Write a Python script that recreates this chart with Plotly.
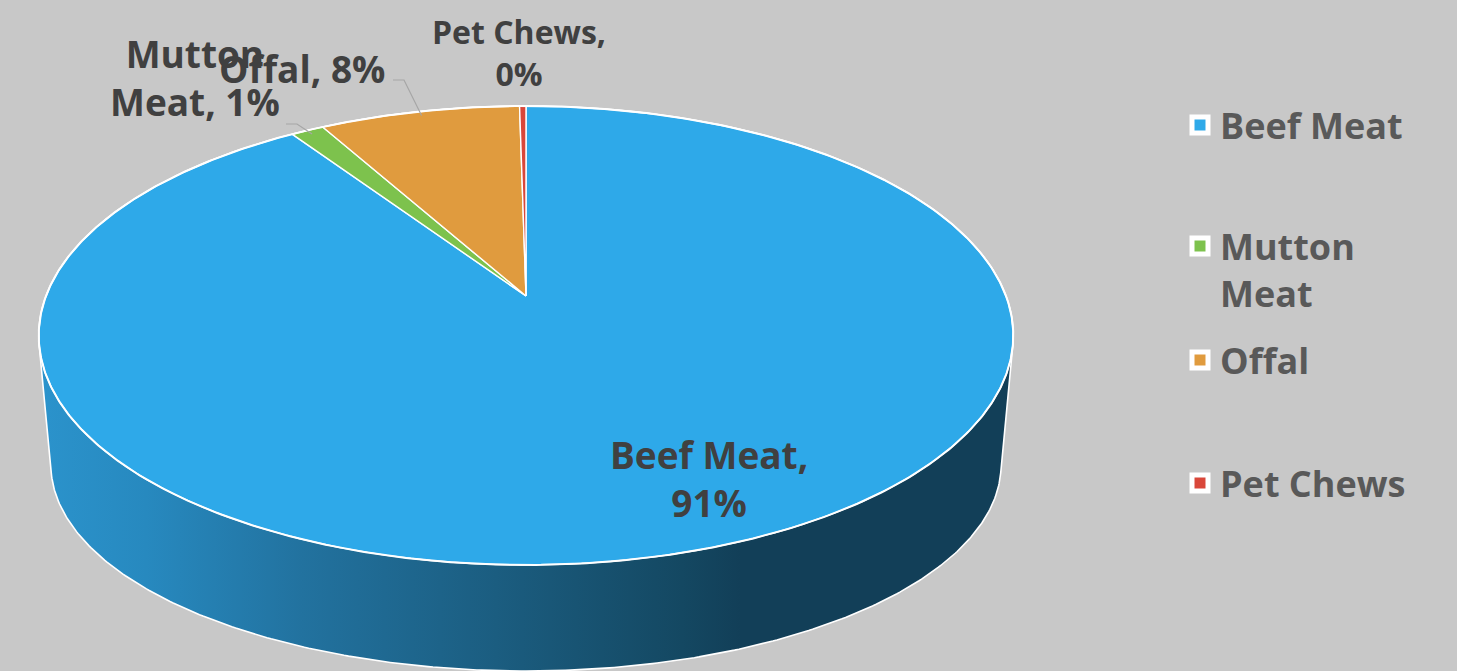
import numpy as np
import plotly.graph_objects as go

# ---------------- data ----------------
categories = ["Beef Meat", "Mutton Meat", "Offal", "Pet Chews"]
values = [90.6, 1.3, 7.85, 0.25]
legend_names = ["Beef Meat", "Mutton<br>Meat", "Offal", "Pet Chews"]
label_breaks = [",<br>", "<br>", ", ", ",<br>"]  # how each data label is wrapped

# ---------------- style ----------------
colors = ["#2EA9E9", "#7DC24D", "#E09B3E", "#D9473A"]
BG = "#C8C8C8"
W, H = 1457, 671
FONT = "Open Sans"

# perspective model of the tilted disc (pixel space)
CX, CY = 526, 296            # apex of the pie on the top face
R, S, K = 480, 222.7, 0.172  # top face radii and perspective factor
CYB, RB, SB = 429.5, 468, 200  # bottom face


def top_xy(theta, r=1.0):
    s = r * np.sin(theta)
    w = 1 + K * s
    return CX + R * r * np.cos(theta) / w, CY - S * s / w


def bottom_xy(theta):
    s = np.sin(theta)
    w = 1 + K * s
    return CX + RB * np.cos(theta) / w, CYB - SB * s / w


def hull(points):
    pts = sorted(set(points))
    def cross(o, a, b):
        return (a[0] - o[0]) * (b[1] - o[1]) - (a[1] - o[1]) * (b[0] - o[0])
    lower, upper = [], []
    for p in pts:
        while len(lower) >= 2 and cross(lower[-2], lower[-1], p) <= 0:
            lower.pop()
        lower.append(p)
    for p in reversed(pts):
        while len(upper) >= 2 and cross(upper[-2], upper[-1], p) <= 0:
            upper.pop()
        upper.append(p)
    return lower[:-1] + upper[:-1]


fig = go.Figure()

# ---- side wall (convex hull of top and bottom faces) ----
th = np.linspace(0, 2 * np.pi, 721)
tx, ty = top_xy(th)
bx, by = bottom_xy(th)
pts = [(round(float(a), 2), round(float(b), 2)) for a, b in zip(np.r_[tx, bx], np.r_[ty, by])]
hp = hull(pts)
hx = [p[0] for p in hp] + [hp[0][0]]
hy = [p[1] for p in hp] + [hp[0][1]]
fig.add_trace(go.Scatter(
    x=hx, y=hy, mode="lines", fill="toself",
    fillgradient=dict(type="horizontal", colorscale=[
        [0.0, "#2B93CC"], [0.11, "#2789BF"], [0.27, "#22729F"],
        [0.47, "#1B5D80"], [0.66, "#144862"], [0.72, "#123F58"], [1.0, "#123F58"]]),
    line=dict(color="white", width=1.6), hoverinfo="skip", showlegend=False))

# ---- top face slices ----
vals = np.array(values, dtype=float)
frac = vals / vals.sum()
cum = np.r_[0, np.cumsum(frac)]
mids = []
for i, name in enumerate(categories):
    t = np.linspace(cum[i], cum[i + 1], max(3, int(frac[i] * 720) + 3))
    ang = np.pi / 2 - 2 * np.pi * t
    ax, ay = top_xy(ang)
    xs = np.r_[CX, ax, CX]
    ys = np.r_[CY, ay, CY]
    mids.append(np.pi / 2 - 2 * np.pi * (cum[i] + cum[i + 1]) / 2)
    fig.add_trace(go.Scatter(
        x=xs, y=ys, mode="lines", fill="toself", fillcolor=colors[i],
        line=dict(color="white", width=1.4), name=name,
        hoverinfo="name", showlegend=False))

# outer white rim of the top face
fig.add_trace(go.Scatter(x=tx, y=ty, mode="lines",
                         line=dict(color="white", width=2),
                         hoverinfo="skip", showlegend=False))

# ---- data labels ----
pct = [int(round(f * 100)) for f in frac]
label_pos = [(709, 478), (195, 77), (302, 68), (519, 52)]
label_size = [37, 37, 37, 32]
for i, name in enumerate(categories):
    words = name.split(" ")
    if i == 1:
        txt = f"{words[0]}<br>{words[1]}, {pct[i]}%"
    else:
        txt = f"{name}{label_breaks[i]}{pct[i]}%"
    fig.add_annotation(x=label_pos[i][0], y=label_pos[i][1], xref="x", yref="y",
                       text=txt, showarrow=False, xanchor="center", yanchor="middle",
                       font=dict(family=FONT, size=label_size[i], color="#404040",
                                 weight="bold"))

# ---- leader lines (Mutton, Offal) ----
leader_start = {1: (286, 124), 2: (393, 80)}
for i, (sx, sy) in leader_start.items():
    ex, ey = top_xy(mids[i], 0.975)
    fig.add_trace(go.Scatter(x=[sx, sx + 11, float(ex)], y=[sy, sy, float(ey)],
                             mode="lines", line=dict(color="#A6A6A6", width=1.2),
                             hoverinfo="skip", showlegend=False))

# ---- legends (one per entry to reproduce Excel spacing) ----
legend_y = [125, 269.5, 360, 483]
legend_keys = ["legend", "legend2", "legend3", "legend4"]
for i, name in enumerate(categories):
    fig.add_trace(go.Scatter(
        x=[None], y=[None], mode="markers", name=legend_names[i],
        marker=dict(symbol="square", size=16, color=colors[i],
                    line=dict(color="white", width=5)),
        legend=legend_keys[i], showlegend=True, hoverinfo="skip"))

legend_common = dict(x=1180 / W, xanchor="left", yanchor="middle",
                     bgcolor="rgba(0,0,0,0)", borderwidth=0, itemsizing="trace",
                     font=dict(family=FONT, size=36, color="#595959", weight="bold"))
layout_legends = {}
for i, key in enumerate(legend_keys):
    d = dict(legend_common)
    d["y"] = 1 - legend_y[i] / H
    if i == 1:
        d["valign"] = "top"
    layout_legends[key] = d

fig.update_layout(
    width=W, height=H,
    margin=dict(l=0, r=0, t=0, b=0),
    paper_bgcolor=BG, plot_bgcolor=BG,
    xaxis=dict(range=[0, W], visible=False, fixedrange=True),
    yaxis=dict(range=[H, 0], visible=False, fixedrange=True),
    hovermode="closest",
    **layout_legends,
)

fig.write_html("out.html")
